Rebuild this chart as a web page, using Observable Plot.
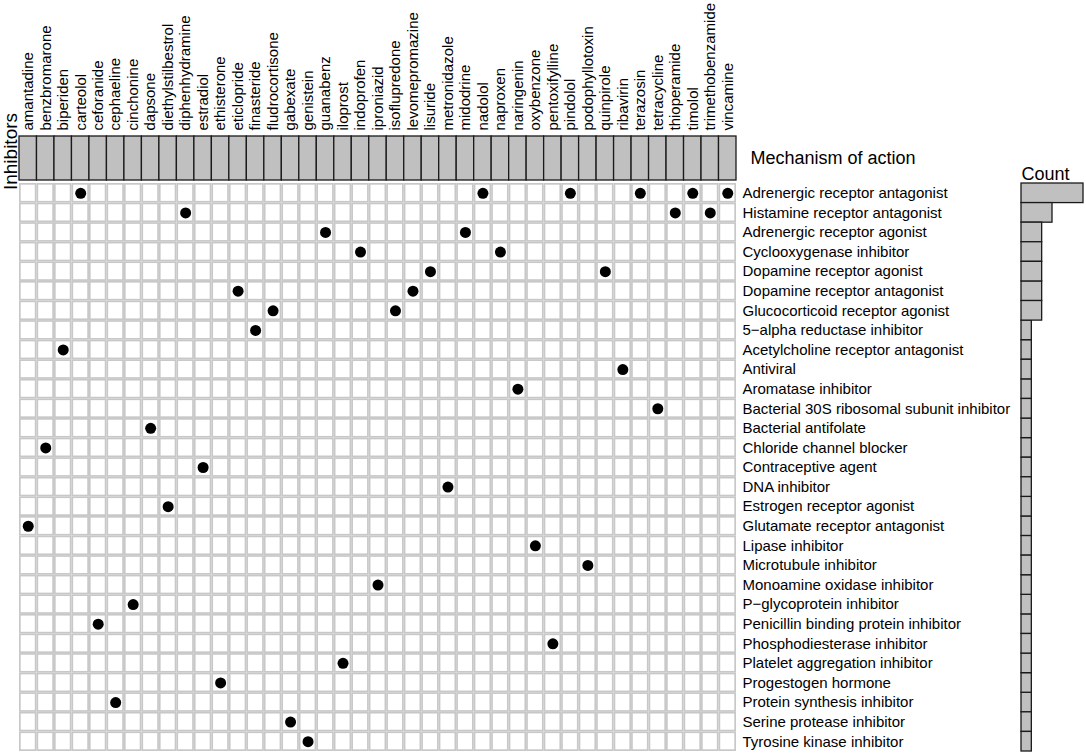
<!DOCTYPE html>
<html>
<head>
<meta charset="utf-8">
<script src="https://cdn.jsdelivr.net/npm/d3@7"></script>
<script src="https://cdn.jsdelivr.net/npm/@observablehq/plot@0.6"></script>
<style>
  html, body { margin: 0; padding: 0; background: white; }
  #chart { position: relative; width: 1086px; height: 754px; font-family: "Liberation Sans", Arial, sans-serif; }
  #chart svg { position: absolute; left: 0; top: 0; }
</style>
</head>
<body>
<div id="chart"></div>
<script>
const inhibitors = ["amantadine","benzbromarone","biperiden","carteolol","ceforanide","cephaeline","cinchonine","dapsone","diethylstilbestrol","diphenhydramine","estradiol","ethisterone","eticlopride","finasteride","fludrocortisone","gabexate","genistein","guanabenz","iloprost","indoprofen","iproniazid","isoflupredone","levomepromazine","lisuride","metronidazole","midodrine","nadolol","naproxen","naringenin","oxybenzone","pentoxifylline","pindolol","podophyllotoxin","quinpirole","ribavirin","terazosin","tetracycline","thioperamide","timolol","trimethobenzamide","vincamine"];

const mechanisms = ["Adrenergic receptor antagonist","Histamine receptor antagonist","Adrenergic receptor agonist","Cyclooxygenase inhibitor","Dopamine receptor agonist","Dopamine receptor antagonist","Glucocorticoid receptor agonist","5\u2212alpha reductase inhibitor","Acetylcholine receptor antagonist","Antiviral","Aromatase inhibitor","Bacterial 30S ribosomal subunit inhibitor","Bacterial antifolate","Chloride channel blocker","Contraceptive agent","DNA inhibitor","Estrogen receptor agonist","Glutamate receptor antagonist","Lipase inhibitor","Microtubule inhibitor","Monoamine oxidase inhibitor","P\u2212glycoprotein inhibitor","Penicillin binding protein inhibitor","Phosphodiesterase inhibitor","Platelet aggregation inhibitor","Progestogen hormone","Protein synthesis inhibitor","Serine protease inhibitor","Tyrosine kinase inhibitor"];

// mechanism of action of each inhibitor (same order as inhibitors)
const mechanismOf = ["Glutamate receptor antagonist","Chloride channel blocker","Acetylcholine receptor antagonist","Adrenergic receptor antagonist","Penicillin binding protein inhibitor","Protein synthesis inhibitor","P\u2212glycoprotein inhibitor","Bacterial antifolate","Estrogen receptor agonist","Histamine receptor antagonist","Contraceptive agent","Progestogen hormone","Dopamine receptor antagonist","5\u2212alpha reductase inhibitor","Glucocorticoid receptor agonist","Serine protease inhibitor","Tyrosine kinase inhibitor","Adrenergic receptor agonist","Platelet aggregation inhibitor","Cyclooxygenase inhibitor","Monoamine oxidase inhibitor","Glucocorticoid receptor agonist","Dopamine receptor antagonist","Dopamine receptor agonist","DNA inhibitor","Adrenergic receptor agonist","Adrenergic receptor antagonist","Cyclooxygenase inhibitor","Aromatase inhibitor","Lipase inhibitor","Phosphodiesterase inhibitor","Adrenergic receptor antagonist","Microtubule inhibitor","Dopamine receptor agonist","Antiviral","Adrenergic receptor antagonist","Bacterial 30S ribosomal subunit inhibitor","Histamine receptor antagonist","Adrenergic receptor antagonist","Histamine receptor antagonist","Adrenergic receptor antagonist"];

const W = 1086, H = 754;
const font = "'Liberation Sans', Arial, sans-serif";
const gray = "#c0c0c0", dark = "#1a1a1a";
const chart = document.getElementById("chart");

// main grid
const grid = Plot.plot({
  width: W, height: H,
  marginLeft: 19, marginRight: 350, marginTop: 183, marginBottom: 3,
  style: {fontFamily: font, background: "white", color: "black"},
  x: {type: "band", domain: inhibitors, padding: 0, round: false, axis: null},
  y: {type: "band", domain: mechanisms, padding: 0, round: false, label: null},
  marks: [
    Plot.cell(d3.cross(inhibitors, mechanisms), {x: d => d[0], y: d => d[1], fill: "white", stroke: "#c8c8c8", strokeWidth: 1.7, inset: 0.85}),
    Plot.dot(inhibitors, {x: d => d, y: (d, i) => mechanismOf[i], r: 5.5, fill: "black"}),
    Plot.axisY({anchor: "right", tickSize: 0, tickPadding: 6, fontSize: 15, label: null})
  ]
});

// header row with inhibitor names
const header = Plot.plot({
  width: W, height: H,
  marginLeft: 19, marginRight: 350, marginTop: 136, marginBottom: H - 180,
  style: {fontFamily: font, background: "transparent", color: "black", overflow: "visible"},
  x: {type: "band", domain: inhibitors, padding: 0, round: false},
  marks: [
    Plot.cell(inhibitors, {x: d => d, fill: gray, stroke: dark, strokeWidth: 1.3}),
    Plot.axisX({anchor: "top", tickSize: 0, tickPadding: 6, tickRotate: -90, fontSize: 15, label: null}),
    Plot.text(["Mechanism of action"], {frameAnchor: "right", textAnchor: "start", dx: 14, fontSize: 18, fill: "black"}),
    Plot.text(["Inhibitors"], {frameAnchor: "left", textAnchor: "middle", rotate: -90, dx: -9, dy: -7, fontSize: 19, fill: "black"})
  ]
});

// count bars
const counts = Plot.plot({
  width: W, height: H,
  marginLeft: 1021, marginRight: 3, marginTop: 183, marginBottom: 3,
  style: {fontFamily: font, background: "transparent", color: "black", overflow: "visible"},
  x: {domain: [0, 6], axis: null},
  y: {type: "band", domain: mechanisms, padding: 0, round: false, axis: null},
  marks: [
    Plot.barX(mechanismOf, Plot.groupY({x: "count"}, {y: d => d, fill: gray, stroke: dark, strokeWidth: 1.3})),
    Plot.text(["Count"], {frameAnchor: "top-left", textAnchor: "start", lineAnchor: "bottom", dy: -4, fontSize: 18, fill: "black"})
  ]
});

chart.append(grid, header, counts);
</script>
</body>
</html>
